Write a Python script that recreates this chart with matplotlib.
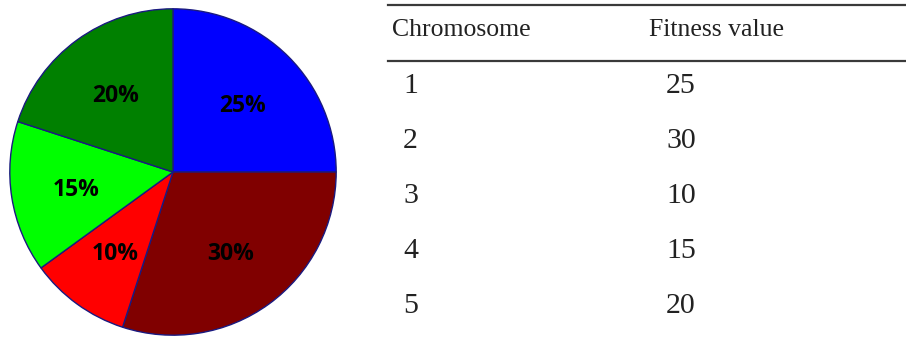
import matplotlib
matplotlib.use("Agg")
import matplotlib.pyplot as plt

# data
chromosomes = ["1", "2", "3", "4", "5"]
fitness = [25, 30, 10, 15, 20]
colors = ["#0000ff", "#800000", "#ff0000", "#00ff00", "#008000"]
headers = ["Chromosome", "Fitness value"]

W, H = 906, 338
fig = plt.figure(figsize=(W / 100, H / 100), dpi=100)

# === pie ===
cx, cy, r = 173, 172, 164
ax = fig.add_axes([(cx - r) / W, (H - cy - r) / H, 2 * r / W, 2 * r / H])
wedges, texts, autotexts = ax.pie(
    fitness, colors=colors, startangle=90, counterclock=False,
    autopct="%d%%", pctdistance=0.6,
    wedgeprops=dict(edgecolor="#1a1a80", linewidth=1.0),
    textprops=dict(fontsize=16.5, fontweight="bold", family="Open Sans", color="black"),
)
# labels sit a little lower in the original
for t in autotexts:
    x, y = t.get_position()
    t.set_position((x, y - 0.018))
ax.set_xlim(-1.005, 1.005)
ax.set_ylim(-1.005, 1.005)

# === table (pixel coords, y down) ===
tx = fig.add_axes([0, 0, 1, 1])
tx.set_xlim(0, W)
tx.set_ylim(H, 0)
tx.axis("off")

line_kw = dict(color="#3a3a3a", linewidth=1.6)
tx.plot([388, W], [5, 5], **line_kw)
tx.plot([388, W], [61, 61], **line_kw)

head_font = dict(family="Liberation Serif", fontsize=18.5, color="#222222", va="center", ha="left")
row_font = dict(family="Liberation Serif", fontsize=21.5, color="#222222", va="center", ha="left")
tx.text(392, 30, headers[0], **head_font)
tx.text(649, 30, headers[1], **head_font)

val_x = [403, 666]
row_y = [86, 141, 196, 251, 306]
for y, c, f in zip(row_y, chromosomes, fitness):
    tx.text(val_x[0], y, c, **row_font)
    tx.text(val_x[1], y, str(f), **row_font)

fig.savefig("out.png", dpi=100, facecolor="white")
